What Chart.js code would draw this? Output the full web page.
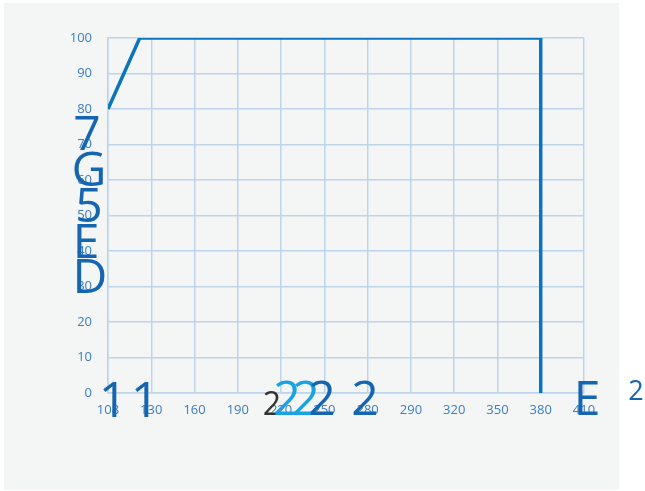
<!DOCTYPE html>
<html>
<head>
<meta charset="utf-8">
<script src="https://cdn.jsdelivr.net/npm/chart.js@4/dist/chart.umd.min.js"></script>
<style>
  html, body { margin: 0; padding: 0; background: #ffffff; }
  #wrap { position: relative; width: 645px; height: 491px; }
</style>
</head>
<body>
<div id="wrap"><canvas id="c" width="645" height="491"></canvas></div>
<script>
// ---- data ----
const xLabels = ['108', '130', '160', '190', '220', '250', '280', '290', '320', '350', '380', '410'];
const xTickValues = [108, 138, 168, 198, 228, 258, 288, 318, 348, 378, 408, 438];
const seriesX = [108, 130, 408, 408];
const seriesY = [80, 100, 100, 0];
const overlayTexts = ['7', 'G', '5', 'E', 'D', '1', '1', '2', '2', '2', '2', '2', 'E', '2'];

// ---- overlay styling (positions, sizes, colors) ----
const overlayStyle = [
  { x: 87, y: 150, s: 48, c: '#1565b0' },
  { x: 89, y: 186, s: 48, c: '#1565b0' },
  { x: 89, y: 222, s: 48, c: '#1565b0' },
  { x: 86, y: 258, s: 48, c: '#1565b0' },
  { x: 90, y: 293, s: 48, c: '#1565b0' },
  { x: 113, y: 417, s: 50, c: '#1565b0' },
  { x: 145, y: 417, s: 50, c: '#1565b0' },
  { x: 272, y: 415, s: 32, c: '#333333' },
  { x: 287, y: 415, s: 48, c: '#1aa3e0' },
  { x: 306, y: 415, s: 48, c: '#1aa3e0' },
  { x: 322, y: 415, s: 48, c: '#1565b0' },
  { x: 365, y: 415, s: 48, c: '#1565b0' },
  { x: 587, y: 415, s: 48, c: '#1565b0' },
  { x: 636, y: 400, s: 27, c: '#1565b0' }
];

const panelPlugin = {
  id: 'panel',
  beforeDraw(chart) {
    const ctx = chart.ctx;
    ctx.save();
    ctx.fillStyle = '#f4f6f6';
    ctx.fillRect(4, 3, 615, 487);
    ctx.restore();
  },
  afterDraw(chart) {
    const ctx = chart.ctx;
    ctx.save();
    ctx.textAlign = 'center';
    ctx.textBaseline = 'alphabetic';
    overlayTexts.forEach((t, i) => {
      const st = overlayStyle[i];
      ctx.font = st.s + 'px "Open Sans", "Noto Sans", sans-serif';
      ctx.fillStyle = st.c;
      ctx.fillText(t, st.x, st.y);
    });
    ctx.restore();
  }
};

const gridColor = '#bdd4ea';
const tickColor = '#3a7cc0';

new Chart(document.getElementById('c'), {
  type: 'line',
  data: {
    datasets: [{
      data: seriesX.map((x, i) => ({ x: x, y: seriesY[i] })),
      borderColor: '#0b74bd',
      borderWidth: 3.5,
      pointRadius: 0,
      tension: 0,
      fill: false
    }]
  },
  options: {
    responsive: false,
    animation: false,
    layout: { padding: { left: 0, right: 61, top: 38, bottom: 0 } },
    plugins: { legend: { display: false }, tooltip: { enabled: false } },
    scales: {
      x: {
        type: 'linear',
        min: 108,
        max: 438,
        afterBuildTicks(scale) {
          scale.ticks = xTickValues.map(v => ({ value: v }));
        },
        afterFit(scale) { scale.height = 98; },
        grid: { color: gridColor, lineWidth: 1.5, drawTicks: false },
        border: { color: gridColor, width: 1.5 },
        ticks: {
          color: tickColor,
          font: { family: '"Open Sans", "Noto Sans", sans-serif', size: 13 },
          padding: 9,
          maxRotation: 0,
          autoSkip: false,
          callback(value, index) { return xLabels[index]; }
        }
      },
      y: {
        min: 0,
        max: 100,
        afterFit(scale) { scale.width = 108; },
        grid: { color: gridColor, lineWidth: 1.5, drawTicks: false },
        border: { color: gridColor, width: 1.5 },
        ticks: {
          stepSize: 10,
          color: tickColor,
          font: { family: '"Open Sans", "Noto Sans", sans-serif', size: 13 },
          padding: 16
        }
      }
    }
  },
  plugins: [panelPlugin]
});
</script>
</body>
</html>
